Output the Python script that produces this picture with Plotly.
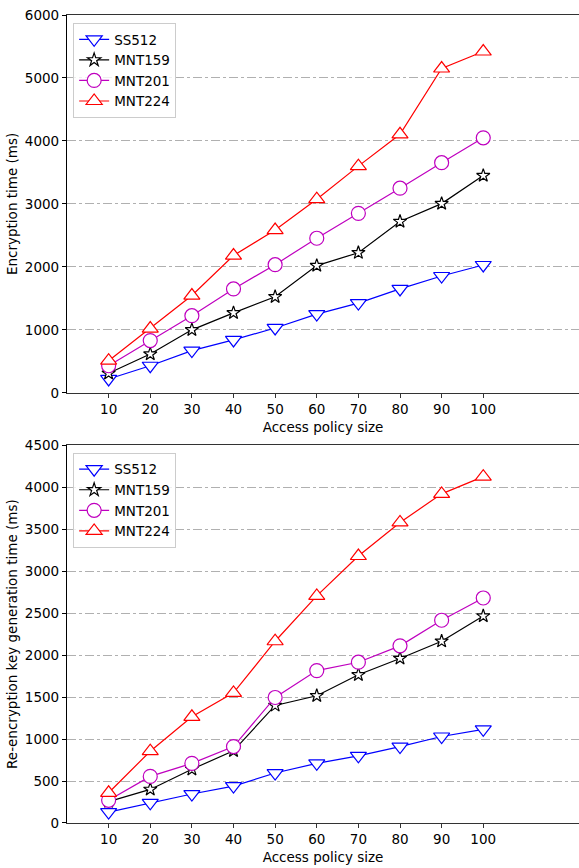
import plotly.graph_objects as go

sizes = [10, 20, 30, 40, 50, 60, 70, 80, 90, 100]

enc_ss512 = [220, 430, 670, 840, 1030, 1250, 1425, 1650, 1855, 2030]
enc_mnt159 = [310, 615, 1000, 1270, 1525, 2020, 2225, 2720, 3005, 3450]
enc_mnt201 = [430, 830, 1225, 1650, 2035, 2455, 2850, 3250, 3655, 4050]
enc_mnt224 = [510, 1020, 1545, 2180, 2585, 3075, 3600, 4105, 5150, 5420]

rk_ss512 = [130, 240, 345, 440, 595, 710, 800, 910, 1030, 1115]
rk_mnt159 = [255, 400, 640, 860, 1400, 1515, 1765, 1960, 2165, 2465]
rk_mnt201 = [270, 555, 710, 910, 1495, 1815, 1915, 2110, 2415, 2680]
rk_mnt224 = [360, 855, 1265, 1550, 2165, 2705, 3180, 3580, 3920, 4125]

series_names = ["SS512", "MNT159", "MNT201", "MNT224"]
colors = ["#0000ff", "#000000", "#bf00bf", "#ff0000"]
symbols = ["triangle-down", "star", "circle", "triangle-up"]
msizes = [14, 10, 14, 14]

fig = go.Figure()

font_family = "DejaVu Sans"
fsize = 13.5

for i, (name, ys) in enumerate(zip(series_names, [enc_ss512, enc_mnt159, enc_mnt201, enc_mnt224])):
    fig.add_trace(go.Scatter(
        x=sizes, y=ys, name=name, mode="lines+markers",
        line=dict(color=colors[i], width=1.2),
        marker=dict(symbol=symbols[i], size=msizes[i], color="white",
                    line=dict(color=colors[i], width=1.2)),
        xaxis="x", yaxis="y", legend="legend",
    ))

for i, (name, ys) in enumerate(zip(series_names, [rk_ss512, rk_mnt159, rk_mnt201, rk_mnt224])):
    fig.add_trace(go.Scatter(
        x=sizes, y=ys, name=name, mode="lines+markers",
        line=dict(color=colors[i], width=1.2),
        marker=dict(symbol=symbols[i], size=msizes[i], color="white",
                    line=dict(color=colors[i], width=1.2)),
        xaxis="x2", yaxis="y2", legend="legend2",
    ))

xcommon = dict(
    range=[0, 123], tickvals=sizes, ticks="outside", ticklen=4, tickwidth=1,
    tickcolor="#333", showline=True, linecolor="#333", linewidth=1.2, mirror=True,
    showgrid=False, zeroline=False,
    tickfont=dict(family=font_family, size=fsize, color="black"),
    title=dict(text="Access policy size", font=dict(family=font_family, size=fsize, color="black"), standoff=6),
)
ycommon = dict(
    ticks="outside", ticklen=4, tickwidth=1, tickcolor="black",
    showline=True, linecolor="black", linewidth=1.2, mirror=False,
    showgrid=True, gridcolor="#b0b0b0", griddash="dashdot", gridwidth=1,
    zeroline=False,
    tickfont=dict(family=font_family, size=fsize, color="black"),
)

legcommon = dict(
    bgcolor="rgba(255,255,255,0.8)", bordercolor="#cccccc", borderwidth=1,
    font=dict(family=font_family, size=fsize, color="black"),
    xanchor="left", yanchor="top", tracegroupgap=0, itemwidth=30,
)

fig.update_layout(
    width=579, height=868,
    margin=dict(l=67, r=0, t=15, b=45),
    paper_bgcolor="white", plot_bgcolor="white",
    xaxis=dict(xcommon, domain=[0, 1], anchor="y"),
    yaxis=dict(ycommon, domain=[0.5324, 1], anchor="x", range=[0, 6000], dtick=1000,
               title=dict(text="Encryption time (ms)", font=dict(family=font_family, size=fsize, color="black"), standoff=4)),
    xaxis2=dict(xcommon, domain=[0, 1], anchor="y2"),
    yaxis2=dict(ycommon, domain=[0, 0.4676], anchor="x2", range=[0, 4500], dtick=500,
                title=dict(text="Re-encryption key generation time (ms)", font=dict(family=font_family, size=fsize, color="black"), standoff=4)),
    legend=dict(legcommon, x=0.012, y=0.99),
    legend2=dict(legcommon, x=0.012, y=0.458),
    showlegend=True,
)

fig.write_html("out.html")
